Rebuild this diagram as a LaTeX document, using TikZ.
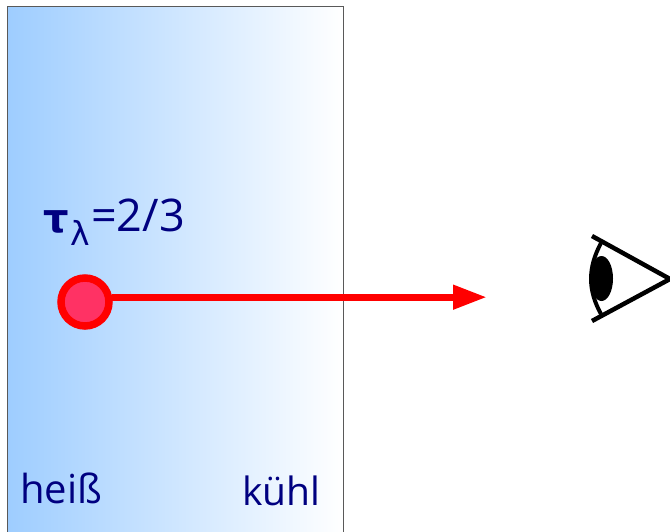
\documentclass[tikz,border=0pt]{standalone}
\usepackage{fontspec}
\setmainfont{Open Sans}
\newfontfamily\greekfont{DejaVu Sans}
\usetikzlibrary{arrows.meta}
\definecolor{ink}{RGB}{0,0,128}
\definecolor{hot}{RGB}{158,205,255}
\definecolor{dotfill}{RGB}{255,50,100}
\tikzset{
  lab/.style={text=ink,inner sep=0pt,anchor=base west},
  hotdot/.style={circle,draw=red,line width=7.5pt,fill=dotfill,minimum size=48pt,inner sep=0pt},
  ray/.style={draw=red,line width=7.3pt,-{Triangle[length=34pt,width=23pt,fill=red]}},
  eyeline/.style={draw=black,line width=4.5pt},
  eyearc/.style={draw=black,line width=4pt}
}
\begin{document}
\begin{tikzpicture}[x=1pt,y=-1pt]
\useasboundingbox (0,0) rectangle (670,531);
\begin{scope}
\clip (0,0) rectangle (670,531);
\path[left color=hot,right color=white] (7,6.5) rectangle (343,540);
\draw[draw=black!65,line width=0.9pt] (7,540) -- (7,6.5) -- (343,6.5) -- (343,540);
\node[hotdot] (dot) at (85,302) {};
\coordinate (tipx) at (487,0);
\coordinate (tip) at (dot.10 -| tipx);
\draw[ray] (dot.10) -- (tip);
\node[lab,font=\fontsize{40}{40}\selectfont] (tau) at (43,232) {{\greekfont\bfseries τ}};
\node[lab,font=\fontsize{33}{33}\selectfont] (lam) at (70,245) {{\greekfont λ}};
\node[lab,font=\fontsize{45}{45}\selectfont] (val) at (91,231) {=2/3};
\node[lab,font=\fontsize{40}{40}\selectfont] (hot) at (20,503) {heiß};
\node[lab,font=\fontsize{39}{39}\selectfont] (cool) at (242,505) {kühl};
\draw[eyeline] (592,236) -- (670,279) -- (592,321);
\draw[eyearc] (601,243) .. controls (587.7,268) and (587.7,290) .. (601,314);
\fill (601.5,278.5) ellipse [x radius=11.5,y radius=22.5];
\end{scope}
\end{tikzpicture}
\end{document}
